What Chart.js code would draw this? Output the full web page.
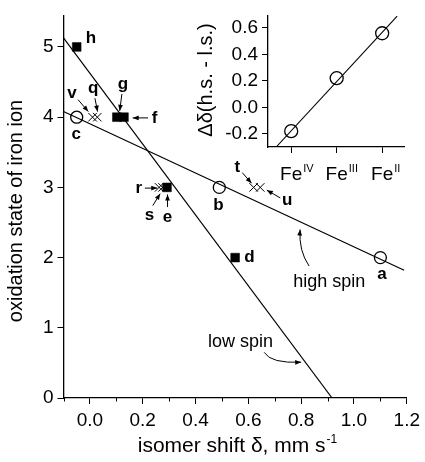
<!DOCTYPE html>
<html><head><meta charset="utf-8">
<script src="https://cdn.jsdelivr.net/npm/chart.js@4/dist/chart.umd.min.js"></script>
<style>
html,body{margin:0;padding:0;background:#fff;}
#wrap{position:relative;width:425px;height:462px;overflow:hidden;}
#main{position:absolute;left:0;top:0;}
#inset{position:absolute;left:190px;top:0;}
</style></head><body>
<div id="wrap">
<canvas id="main" width="425" height="462"></canvas>
<canvas id="inset" width="235" height="190"></canvas>
</div>
<script>
// ---------- data (main plot) ----------
const circleNames = ['a', 'b', 'c'];            // high-spin reference points
const circleX = [1.10, 0.49, -0.05];
const circleY = [2, 3, 4];
const squareNames = ['d', 'e', 'f', 'g', 'h'];  // filled squares
const squareX = [0.55, 0.292, 0.129, 0.102, -0.05];
const squareY = [2, 3, 4, 4, 5];
const crossNames = ['q', 'r', 's', 't', 'u', 'v']; // crosses
const crossX = [0.028, 0.262, 0.275, 0.62, 0.645, 0.01];
const crossY = [4, 3, 3, 3, 3, 4];
const highSpinX = [-0.1, 1.19];
const highSpinY = [4.08, 1.82];
const lowSpinX = [-0.1, 0.917];
const lowSpinY = [5.13, 0];
const xTickValues = [-0.1, 0, 0.1, 0.2, 0.3, 0.4, 0.5, 0.6, 0.7, 0.8, 0.9, 1.0, 1.1, 1.2];
const yTickValues = [0, 1, 2, 3, 4, 5];

// ---------- data (inset) ----------
const insetCategories = ['IV', 'III', 'II'];   // Fe oxidation state superscripts
const insetPos = [1, 2, 3];
const insetDelta = [-0.18, 0.22, 0.56];
const insetLineX = [0.67, 3.33];
const insetLineY = [-0.3, 0.69];
const insetYTicks = [-0.2, 0, 0.2, 0.4, 0.6];

// ---------- annotation placement (data units) ----------
const FONT = '"Liberation Sans", Arial, Helvetica, sans-serif';
const labelPos = {
  h: [0.004, 5.13], g: [0.125, 4.47], f: [0.245, 3.99], v: [-0.068, 4.34], q: [0.012, 4.41],
  c: [-0.052, 3.76], r: [0.185, 2.99], s: [0.226, 2.60], e: [0.294, 2.57], b: [0.487, 2.74],
  t: [0.558, 3.28], u: [0.747, 2.81], d: [0.604, 2.0], a: [1.106, 1.76]
};
const arrowSpecs = [
  [[0.121, 4.33], [0.113, 4.09]],   // g
  [[0.220, 3.99], [0.162, 3.99]],   // f
  [[-0.045, 4.25], [-0.006, 4.08]], // v
  [[0.019, 4.27], [0.029, 4.08]],   // q
  [[0.208, 2.99], [0.255, 2.99]],   // r
  [[0.238, 2.74], [0.266, 2.91]],   // s
  [[0.294, 2.72], [0.294, 2.90]],   // e
  [[0.577, 3.21], [0.612, 3.06]],   // t
  [[0.721, 2.85], [0.670, 2.96]]    // u
];
const curveSpecs = [
  {from: [0.83, 1.88], ctrl: [0.79, 2.10], to: [0.796, 2.40]},  // high spin
  {from: [0.66, 0.65], ctrl: [0.685, 0.49], to: [0.80, 0.51]}   // low spin
];
const textSpecs = [
  {t: 'high spin', at: [0.906, 1.645]},
  {t: 'low spin', at: [0.57, 0.794]}
];

function zip(xs, ys) { return xs.map((x, i) => ({x: x, y: ys[i]})); }
function isMinor(v) { return Math.abs(Math.round(v * 10)) % 2 === 1; }

function arrowHead(ctx, x0, y0, x1, y1, len, w) {
  const a = Math.atan2(y1 - y0, x1 - x0);
  const c = Math.cos(a), s = Math.sin(a);
  ctx.beginPath();
  ctx.moveTo(x1, y1);
  ctx.lineTo(x1 - len * c + w * s, y1 - len * s - w * c);
  ctx.lineTo(x1 - len * c - w * s, y1 - len * s + w * c);
  ctx.closePath();
  ctx.fill();
}

const mainDecor = {
  id: 'mainDecor',
  afterDraw(chart) {
    const ctx = chart.ctx, xs = chart.scales.x, ys = chart.scales.y;
    const P = (p) => [xs.getPixelForValue(p[0]), ys.getPixelForValue(p[1])];
    ctx.save();
    ctx.fillStyle = '#000'; ctx.strokeStyle = '#000';
    // minor ticks on x axis
    ctx.lineWidth = 1;
    xs.ticks.forEach(t => {
      if (isMinor(t.value)) {
        const px = Math.round(xs.getPixelForValue(t.value)) + 0.5;
        ctx.beginPath(); ctx.moveTo(px, chart.chartArea.bottom); ctx.lineTo(px, chart.chartArea.bottom + 3.5); ctx.stroke();
      }
    });
    // bold point labels
    ctx.font = 'bold 17px ' + FONT;
    ctx.textAlign = 'center'; ctx.textBaseline = 'middle';
    Object.keys(labelPos).forEach(k => { const p = P(labelPos[k]); ctx.fillText(k, p[0], p[1]); });
    // straight arrows
    ctx.lineWidth = 1;
    arrowSpecs.forEach(a => {
      const p0 = P(a[0]), p1 = P(a[1]);
      ctx.beginPath(); ctx.moveTo(p0[0], p0[1]); ctx.lineTo(p1[0], p1[1]); ctx.stroke();
      arrowHead(ctx, p0[0], p0[1], p1[0], p1[1], 6, 2.4);
    });
    // curved arrows
    curveSpecs.forEach(c => {
      const p0 = P(c.from), pc = P(c.ctrl), p1 = P(c.to);
      ctx.beginPath(); ctx.moveTo(p0[0], p0[1]); ctx.quadraticCurveTo(pc[0], pc[1], p1[0], p1[1]); ctx.stroke();
      arrowHead(ctx, pc[0], pc[1], p1[0], p1[1], 6, 2.4);
    });
    // texts
    ctx.font = '18px ' + FONT;
    textSpecs.forEach(s => { const p = P(s.at); ctx.fillText(s.t, p[0], p[1]); });
    // axis titles
    ctx.textBaseline = 'alphabetic';
    ctx.save();
    ctx.translate(22, 211); ctx.rotate(-Math.PI / 2);
    ctx.font = '20px ' + FONT; ctx.textAlign = 'center';
    ctx.fillText('oxidation state of iron ion', 0, 0);
    ctx.restore();
    const main = 'isomer shift \u03B4, mm s';
    ctx.font = '21px ' + FONT;
    const w1 = ctx.measureText(main).width;
    ctx.font = '12px ' + FONT;
    const w2 = ctx.measureText('-1').width;
    const x0 = 237 - (w1 + w2) / 2;
    ctx.textAlign = 'left';
    ctx.font = '21px ' + FONT;
    ctx.fillText(main, x0, 451.5);
    ctx.font = '12px ' + FONT;
    ctx.fillText('-1', x0 + w1 + 1, 443);
    ctx.restore();
  }
};

new Chart(document.getElementById('main'), {
  type: 'scatter',
  data: {
    datasets: [
      {data: zip(highSpinX, highSpinY), showLine: true, pointRadius: 0, borderColor: '#000', borderWidth: 1.2, fill: false},
      {data: zip(lowSpinX, lowSpinY), showLine: true, pointRadius: 0, borderColor: '#000', borderWidth: 1.2, fill: false},
      {data: zip(circleX, circleY), pointStyle: 'circle', pointRadius: 6, borderColor: '#000', borderWidth: 1.3, backgroundColor: 'rgba(0,0,0,0)'},
      {data: zip(squareX, squareY), pointStyle: 'rect', pointRadius: 6.2, borderColor: '#000', borderWidth: 0.5, backgroundColor: '#000'},
      {data: zip(crossX, crossY), pointStyle: 'crossRot', pointRadius: 6, borderColor: '#000', borderWidth: 1}
    ]
  },
  options: {
    responsive: false, animation: false, devicePixelRatio: 1,
    layout: {padding: {left: 0, right: 18, top: 13, bottom: 0}},
    plugins: {legend: {display: false}, tooltip: {enabled: false}},
    scales: {
      x: {
        type: 'linear', min: -0.1, max: 1.2,
        afterBuildTicks: s => { s.ticks = xTickValues.map(v => ({value: v})); },
        afterFit: s => { s.height = 64; },
        border: {display: true, color: '#000', width: 1.3},
        grid: {drawOnChartArea: false, drawTicks: true, tickLength: 6, tickWidth: 1,
               tickColor: c => (c.tick && isMinor(c.tick.value)) ? 'rgba(0,0,0,0)' : '#000'},
        ticks: {autoSkip: false, maxRotation: 0, padding: 5, color: '#000', font: {family: FONT, size: 19},
                callback: v => isMinor(v) ? '' : (Math.abs(v) < 1e-9 ? 0 : v).toFixed(1)}
      },
      y: {
        type: 'linear', min: 0, max: 5.45,
        afterBuildTicks: s => { s.ticks = yTickValues.map(v => ({value: v})); },
        afterFit: s => { s.width = 63.5; },
        border: {display: true, color: '#000', width: 1.3},
        grid: {drawOnChartArea: false, drawTicks: true, tickLength: 6, tickWidth: 1, tickColor: '#000'},
        ticks: {padding: 4, color: '#000', font: {family: FONT, size: 19}, callback: v => String(v)}
      }
    }
  },
  plugins: [mainDecor]
});

const insetDecor = {
  id: 'insetDecor',
  afterDraw(chart) {
    const ctx = chart.ctx, xs = chart.scales.x;
    ctx.save();
    ctx.fillStyle = '#000';
    ctx.textBaseline = 'alphabetic';
    insetPos.forEach((p, i) => {
      const px = xs.getPixelForValue(p);
      ctx.font = '19px ' + FONT;
      const w = ctx.measureText('Fe').width;
      ctx.textAlign = 'left';
      ctx.fillText('Fe', px - w / 2, 180);
      ctx.font = '11px ' + FONT;
      ctx.fillText(insetCategories[i], px + w / 2 + 1, 172);
    });
    ctx.save();
    ctx.translate(22, 80); ctx.rotate(-Math.PI / 2);
    ctx.font = '20px ' + FONT; ctx.textAlign = 'center';
    ctx.fillText('\u0394\u03B4(h.s. - l.s.)', 0, 0);
    ctx.restore();
    ctx.restore();
  }
};

new Chart(document.getElementById('inset'), {
  type: 'scatter',
  data: {
    datasets: [
      {data: zip(insetLineX, insetLineY), showLine: true, pointRadius: 0, borderColor: '#000', borderWidth: 1.1, fill: false},
      {data: zip(insetPos, insetDelta), pointStyle: 'circle', pointRadius: 6.5, borderColor: '#000', borderWidth: 1.3, backgroundColor: 'rgba(0,0,0,0)'}
    ]
  },
  options: {
    responsive: false, animation: false, devicePixelRatio: 1,
    layout: {padding: {left: 0, right: 21, top: 13, bottom: 0}},
    plugins: {legend: {display: false}, tooltip: {enabled: false}},
    scales: {
      x: {
        type: 'linear', min: 0.49, max: 3.48,
        afterBuildTicks: s => { s.ticks = insetPos.map(v => ({value: v})); },
        afterFit: s => { s.height = 43; },
        border: {display: true, color: '#000', width: 1.3},
        grid: {drawOnChartArea: false, drawTicks: true, tickLength: 6, tickColor: '#000'},
        ticks: {display: true, color: 'rgba(0,0,0,0)', font: {family: FONT, size: 18}, callback: () => ''}
      },
      y: {
        type: 'linear', min: -0.3, max: 0.695,
        afterBuildTicks: s => { s.ticks = insetYTicks.map(v => ({value: v})); },
        afterFit: s => { s.width = 78; },
        border: {display: true, color: '#000', width: 1.3},
        grid: {drawOnChartArea: false, drawTicks: true, tickLength: 6, tickColor: '#000'},
        ticks: {padding: 4, color: '#000', font: {family: FONT, size: 19},
                callback: v => (Math.abs(v) < 1e-9 ? 0 : v).toFixed(1)}
      }
    }
  },
  plugins: [insetDecor]
});
</script>
</body></html>
